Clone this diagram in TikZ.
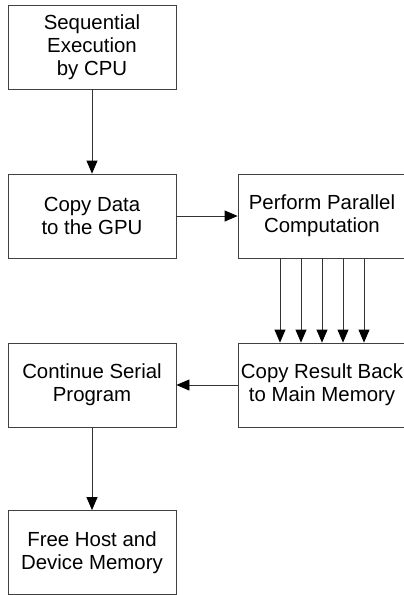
\documentclass[tikz,border=0pt]{standalone}
\usepackage{fontspec}
\setmainfont{Liberation Sans}
\usepackage{tikz}
\usetikzlibrary{arrows.meta}

\tikzset{
  stepbox/.style={draw=black!75, line width=0.8pt, minimum width=168pt, minimum height=84pt,
    inner sep=0pt, align=center, font=\fontsize{20.4}{23}\selectfont},
  flow/.style={draw=black!80, line width=0.8pt, -{Triangle[length=13pt,width=11pt,color=black]}}
}

\begin{document}
\begin{tikzpicture}[x=1pt,y=-1pt]
\clip (0,0) rectangle (404,595);
\useasboundingbox (0,0) rectangle (404,595);

% boxes
\node[stepbox] (cpu)  at (92,47)    {Sequential\\Execution\\by CPU};
\node[stepbox] (copy) at (92,216)   {Copy Data\\to the GPU};
\node[stepbox] (par)  at (322,216)  {Perform Parallel\\Computation};
\node[stepbox] (back) at (322,385)  {Copy Result Back\\to Main Memory};
\node[stepbox] (cont) at (92,385)   {Continue Serial\\Program};
\node[stepbox] (free) at (92,552.5) {Free Host and\\Device Memory};

% connectors
\draw[flow] (cpu) -- (copy);
\draw[flow] (copy) -- (par);
\foreach \dx in {-42,-21,0,21,42}
  \draw[flow] ([xshift=\dx pt]par.south) -- ([xshift=\dx pt]back.north);
\draw[flow] (back) -- (cont);
\draw[flow] (cont) -- (free);

\end{tikzpicture}
\end{document}
